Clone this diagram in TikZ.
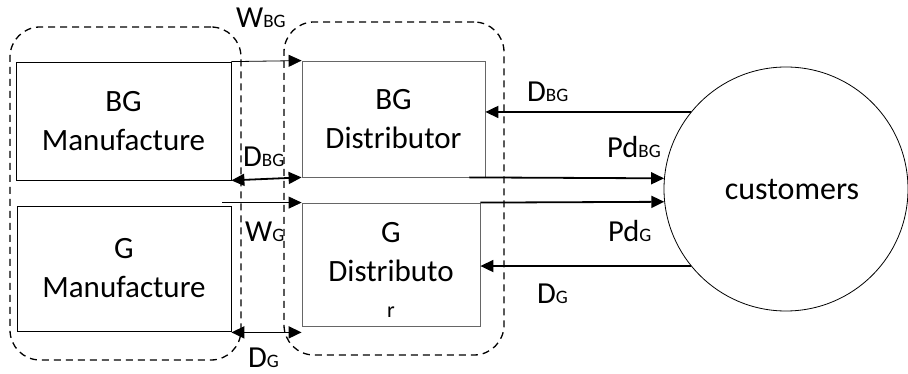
\documentclass[tikz,border=0pt]{standalone}
\usepackage{fontspec}
\setmainfont{Carlito}
\usetikzlibrary{arrows.meta}
\newcommand{\boxfont}{\fontsize{31}{39}\selectfont}
\newcommand{\flowlbl}[2]{{\fontsize{30.5}{30.5}\selectfont #1}{\fontsize{19}{19}\selectfont #2}}
\tikzset{
  unit/.style={draw=#1, line width=0.8pt, inner sep=0pt, align=center, font=\boxfont},
  grp/.style={draw, line width=1.3pt, dash pattern=on 7pt off 5pt, rounded corners=30pt, inner sep=0pt},
  flow/.style={line width=1.8pt, -{Triangle[length=13pt,width=12pt]}},
  flow2/.style={line width=1.8pt, {Triangle[length=13pt,width=12pt]}-{Triangle[length=13pt,width=12pt]}},
  feed/.style={line width=0.8pt, -{Triangle[length=13pt,width=12pt]}},
  lbl/.style={anchor=base west, inner sep=0pt},
}
\begin{document}
\begin{tikzpicture}[x=1pt,y=-1pt]
  \useasboundingbox (0,0) rectangle (908,374);

  % dashed groupings
  \node[grp, minimum width=231pt, minimum height=333pt] (g1) at (125.5,193.5) {};
  \node[grp, minimum width=220pt, minimum height=333pt] (g2) at (394,188.5) {};

  % manufacturers and distributors
  \node[unit=black, minimum width=215pt, minimum height=118pt] (bgm) at (123.5,121) {BG\\Manufacture};
  \node[unit=black, minimum width=214pt, minimum height=125pt] (gm) at (124,268.5) {G\\Manufacture};
  \node[unit=black!60, minimum width=183pt, minimum height=116pt] (bgd) at (393.5,119) {BG\\Distributor};
  \node[unit=black!60, minimum width=178pt, minimum height=123pt] (gd) at (391,264.5)
    {\rule{0pt}{31pt}G\\Distributo\\[-3pt]{\fontsize{22}{22}\selectfont r}};

  % market
  \node[draw, circle, line width=0.8pt, minimum size=244pt, inner sep=0pt,
        font=\fontsize{32}{32}\selectfont] (cust) at (786,189) {};
  \node[font=\fontsize{32}{32}\selectfont, anchor=base] (custtxt) at (792,200) {customers};

  % flows between manufacturers and distributors
  \draw[feed] (bgm.north east) -- (bgd.north west);
  \draw[flow2] (bgm.south east) -- (bgd.south west);
  \draw[feed] ([xshift=-9pt]gm.north east |- gd.north west) -- (gd.north west);
  \draw[flow2] ([yshift=-1pt]gm.south east) -- ([yshift=-1pt]gm.south east -| gd.west);

  % flows between distributors and customers
  \draw[flow] (cust.141) -- (cust.141 -| bgd.east);
  \draw[flow] ([xshift=-16pt]bgd.south east) -- (cust.175);
  \draw[flow] (gd.north east) -- (cust.186.6);
  \draw[flow] (cust.219) -- (cust.219 -| gd.east);

  % flow labels
  \node[lbl] (wbg) at (236,28) {\flowlbl{W}{BG}};
  \node[lbl] (dbg) at (243,167) {\flowlbl{D}{BG}};
  \node[lbl] (wg) at (245,242) {\flowlbl{W}{G}};
  \node[lbl] (dg) at (248,367) {\flowlbl{D}{G}};
  \node[lbl] (dbgc) at (527,102) {\flowlbl{D}{BG}};
  \node[lbl] (pdbg) at (607,158) {\flowlbl{Pd}{BG}};
  \node[lbl] (pdg) at (608,242) {\flowlbl{Pd}{G}};
  \node[lbl] (dgc) at (537,303) {\flowlbl{D}{G}};
\end{tikzpicture}
\end{document}
